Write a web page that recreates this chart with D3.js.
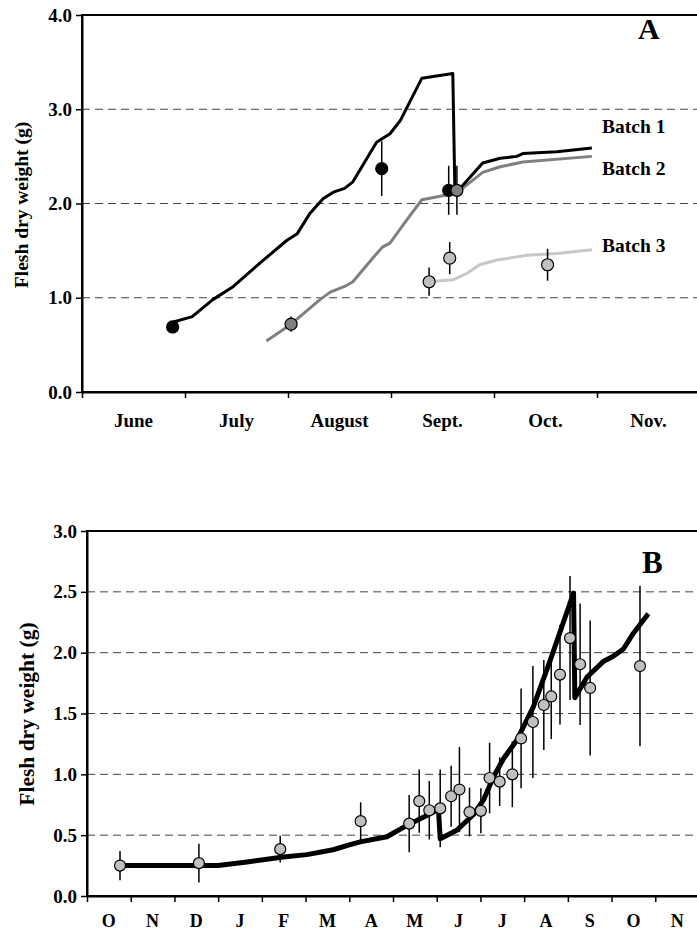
<!DOCTYPE html>
<html>
<head>
<meta charset="utf-8">
<script src="https://cdn.jsdelivr.net/npm/d3@7"></script>
<style>
	body { margin: 0; background: #fff; }
	text { font-family: "Liberation Serif", "Times New Roman", serif; font-weight: bold; fill: #000; }
</style>
</head>
<body>
<div id="vis"></div>
<script>
// ---- data (x in months from start of first month on the axis) ----
const MONTHS_A = ["June", "July", "August", "Sept.", "Oct.", "Nov."];
const TICKS_A = [0, 1, 2, 3, 4];
const MONTHS_B = ["O", "N", "D", "J", "F", "M", "A", "M", "J", "J", "A", "S", "O", "N"];
const TICKS_B = [0, 0.5, 1, 1.5, 2, 2.5, 3];

// model curves, panel A
const BATCH1_LINE = [[0.88,0.74],[1.07,0.80],[1.27,0.98],[1.47,1.12],[1.73,1.37],[1.99,1.61],[2.09,1.68],
	[2.21,1.89],[2.34,2.05],[2.44,2.12],[2.55,2.16],[2.63,2.23],[2.86,2.65],[2.99,2.74],[3.09,2.88],
	[3.30,3.33],[3.60,3.38],[3.62,2.14],[3.67,2.16],[3.89,2.43],[4.06,2.48],[4.22,2.50],[4.28,2.53],
	[4.61,2.55],[4.95,2.59]];
const BATCH2_LINE = [[1.79,0.54],[2.03,0.72],[2.31,0.98],[2.41,1.06],[2.55,1.12],[2.63,1.17],[2.83,1.43],
	[2.92,1.54],[2.99,1.58],[3.15,1.82],[3.30,2.04],[3.54,2.09],[3.67,2.14],[3.89,2.33],[4.06,2.39],
	[4.28,2.44],[4.95,2.50]];
const BATCH3_LINE = [[3.37,1.17],[3.60,1.19],[3.74,1.26],[3.86,1.35],[4.03,1.40],[4.32,1.45],[4.61,1.47],[4.95,1.51]];

// observations [month, mean, sd], panel A
const BATCH1_PTS = [[0.88,0.69,0.06],[2.91,2.37,0.29],[3.56,2.14,0.26]];
const BATCH2_PTS = [[2.03,0.72,0.08],[3.64,2.14,0.26]];
const BATCH3_PTS = [[3.37,1.17,0.15],[3.57,1.42,0.17],[4.52,1.35,0.17]];

// model curve + observations, panel B
const MODEL_B = [[0.755,0.25],[3.0,0.25],[3.66,0.28],[4.49,0.32],[5.03,0.34],[5.63,0.38],[6.0,0.42],
	[6.25,0.445],[6.86,0.487],[7.32,0.58],[8.04,0.71],[8.08,0.47],[8.46,0.54],[8.84,0.67],[9.07,0.79],
	[9.30,0.98],[9.53,1.13],[9.83,1.28],[10.21,1.555],[10.60,1.94],[11.13,2.49],[11.16,1.63],[11.44,1.80],
	[11.82,1.93],[12.04,1.97],[12.27,2.03],[12.50,2.16],[12.84,2.32]];
const OBS_B = [[0.755,0.25,0.12],[2.56,0.27,0.16],[4.42,0.385,0.11],[6.26,0.615,0.155],[7.37,0.595,0.235],
	[7.60,0.78,0.26],[7.83,0.705,0.24],[8.08,0.72,0.32],[8.33,0.82,0.25],[8.52,0.875,0.35],[8.75,0.69,0.2],
	[9.01,0.70,0.185],[9.21,0.97,0.29],[9.44,0.94,0.2],[9.73,1.0,0.27],[9.93,1.295,0.41],[10.20,1.43,0.46],
	[10.45,1.57,0.37],[10.62,1.64,0.35],[10.82,1.82,0.41],[11.05,2.12,0.51],[11.28,1.905,0.5],
	[11.51,1.71,0.555],[12.65,1.89,0.66]];

// ---- frame ----
const FRAME_WIDTH = 697;
const FRAME_HEIGHT = 935;

const SVG = d3.select("#vis")
	.append("svg")
		.attr("width", FRAME_WIDTH)
		.attr("height", FRAME_HEIGHT);

// draws one panel, returns scales
function panel(cfg) {
	const X = d3.scaleLinear().domain([0, cfg.months.length]).range([cfg.left, cfg.right]);
	const Y = d3.scaleLinear().domain([0, cfg.yMax]).range([cfg.bottom, cfg.top]);
	const g = SVG.append("g");

	// dashed grid
	g.selectAll(".grid")
		.data(cfg.ticks.filter(t => t > 0 && t < cfg.yMax))
		.enter()
		.append("line")
			.attr("x1", cfg.left).attr("x2", cfg.right)
			.attr("y1", d => Y(d)).attr("y2", d => Y(d))
			.attr("stroke", "#444")
			.attr("stroke-width", 1)
			.attr("stroke-dasharray", "8,5");

	// box
	g.append("rect")
		.attr("x", cfg.left).attr("y", cfg.top)
		.attr("width", cfg.right - cfg.left)
		.attr("height", cfg.bottom - cfg.top)
		.attr("fill", "none")
		.attr("stroke", "#000")
		.attr("stroke-width", 2);

	// y axis
	const yAxis = g.append("g")
		.attr("transform", "translate(" + cfg.left + ",0)")
		.call(d3.axisLeft(Y).tickValues(cfg.ticks).tickFormat(d3.format(".1f")).tickSize(6).tickSizeOuter(0))
		.attr("font-family", null);
	yAxis.select(".domain").attr("stroke-width", 2);
	yAxis.selectAll(".tick line").attr("stroke-width", 1.5);
	yAxis.selectAll("text")
		.attr("x", -10)
		.style("font-size", cfg.tickFont + "px");

	// x axis: month boundaries, names centred between
	const xAxis = g.append("g")
		.attr("transform", "translate(0," + cfg.bottom + ")")
		.call(d3.axisBottom(X).tickValues(d3.range(cfg.months.length + 1)).tickFormat("").tickSize(6).tickSizeOuter(0));
	xAxis.select(".domain").attr("stroke-width", 2);
	xAxis.selectAll(".tick line").attr("stroke-width", 1.5);

	g.selectAll(".month")
		.data(cfg.months)
		.enter()
		.append("text")
			.attr("x", (d, i) => X(i + 0.5))
			.attr("y", cfg.monthY)
			.attr("text-anchor", "middle")
			.style("font-size", cfg.monthFont + "px")
			.text(d => d);

	// y title
	g.append("text")
		.attr("transform", "translate(" + cfg.titleX + "," + cfg.titleY + ") rotate(-90)")
		.attr("text-anchor", "middle")
		.style("font-size", cfg.titleFont + "px")
		.text("Flesh dry weight (g)");

	// panel letter
	g.append("text")
		.attr("x", cfg.letterX).attr("y", cfg.letterY)
		.style("font-size", cfg.letterFont + "px")
		.text(cfg.letter);

	return {X: X, Y: Y, g: g};
}

function drawLine(p, data, color, width) {
	p.g.append("path")
		.datum(data)
		.attr("fill", "none")
		.attr("stroke", color)
		.attr("stroke-width", width)
		.attr("stroke-linejoin", "round")
		.attr("d", d3.line().x(d => p.X(d[0])).y(d => p.Y(d[1])));
}

function drawPoints(p, data, fill, r) {
	const pts = p.g.append("g");
	pts.selectAll("line")
		.data(data)
		.enter()
		.append("line")
			.attr("x1", d => p.X(d[0])).attr("x2", d => p.X(d[0]))
			.attr("y1", d => p.Y(d[1] - d[2])).attr("y2", d => p.Y(d[1] + d[2]))
			.attr("stroke", "#000")
			.attr("stroke-width", 1.5);
	pts.selectAll("circle")
		.data(data)
		.enter()
		.append("circle")
			.attr("cx", d => p.X(d[0]))
			.attr("cy", d => p.Y(d[1]))
			.attr("r", r)
			.attr("fill", fill)
			.attr("stroke", "#000")
			.attr("stroke-width", 1.2);
}

// ---- panel A ----
const PA = panel({
	months: MONTHS_A, ticks: TICKS_A, yMax: 4,
	left: 82, right: 700, top: 15, bottom: 392,
	tickFont: 19, monthFont: 19, monthY: 427,
	titleFont: 19.5, titleX: 28, titleY: 205,
	letter: "A", letterX: 638, letterY: 39, letterFont: 30
});

drawLine(PA, BATCH3_LINE, "#c8c8c8", 3);
drawLine(PA, BATCH2_LINE, "#808080", 3);
drawLine(PA, BATCH1_LINE, "#000", 3);
drawPoints(PA, BATCH1_PTS, "#000", 6);
drawPoints(PA, BATCH2_PTS, "#808080", 6);
drawPoints(PA, BATCH3_PTS, "#c0c0c0", 6);

// batch labels
PA.g.selectAll(".batch")
	.data([["Batch 1", 132.7], ["Batch 2", 175], ["Batch 3", 251.7]])
	.enter()
	.append("text")
		.attr("x", 602)
		.attr("y", d => d[1])
		.style("font-size", "19.5px")
		.text(d => d[0]);

// ---- panel B ----
const PB = panel({
	months: MONTHS_B, ticks: TICKS_B, yMax: 3,
	left: 87, right: 699, top: 531, bottom: 896,
	tickFont: 19, monthFont: 18, monthY: 927,
	titleFont: 21.5, titleX: 33.5, titleY: 714,
	letter: "B", letterX: 642, letterY: 572.7, letterFont: 31
});

drawLine(PB, MODEL_B, "#000", 5);
drawPoints(PB, OBS_B, "#c0c0c0", 5.5);
</script>
</body>
</html>
